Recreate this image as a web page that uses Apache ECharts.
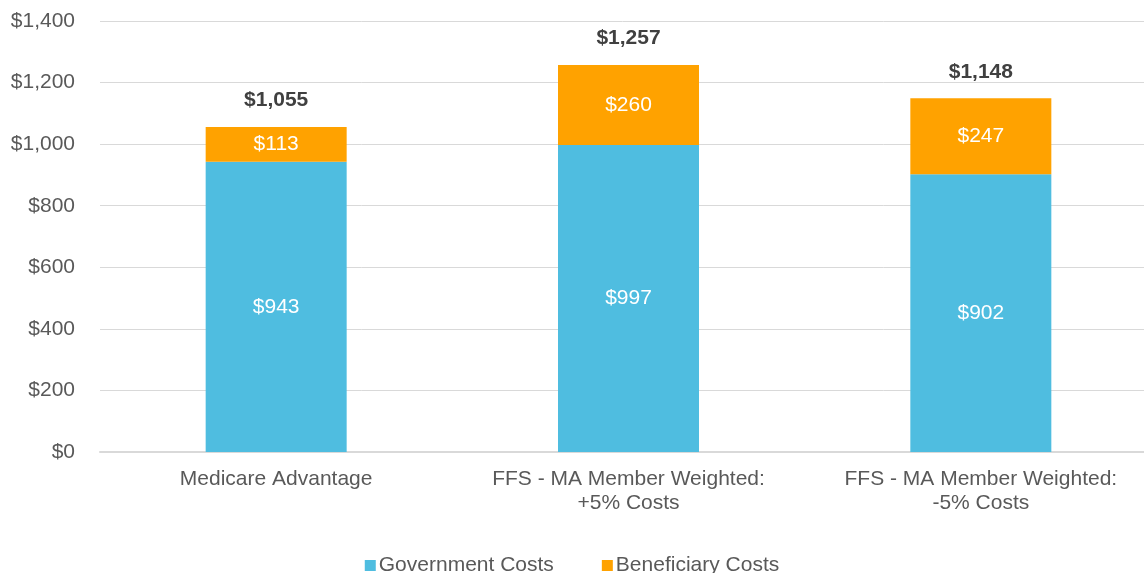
<!DOCTYPE html>
<html><head><meta charset="utf-8">
<script src="https://cdn.jsdelivr.net/npm/echarts@6/dist/echarts.min.js"></script>
<style>html,body{margin:0;padding:0;background:#fff}#c{width:1144px;height:573px}</style>
</head><body><div id="c"></div>
<script>
const categories = ['Medicare Advantage', 'FFS - MA Member Weighted:\n+5% Costs', 'FFS - MA Member Weighted:\n-5% Costs'];
const governmentCosts = [943, 997, 902];
const beneficiaryCosts = [113, 260, 247];
const totals = [1055, 1257, 1148];
const seriesNames = ['Government Costs', 'Beneficiary Costs'];
const yTicks = [0, 200, 400, 600, 800, 1000, 1200, 1400];

const fmt = v => '$' + v.toLocaleString('en-US');
const chart = echarts.init(document.getElementById('c'), null, {renderer: 'canvas'});
const font = 'Liberation Sans, Arial, sans-serif';
const fs = 21;
chart.setOption({
  animation: false,
  textStyle: {fontFamily: font},
  grid: {left: 100, top: 21, width: 1057, height: 431, containLabel: false, outerBoundsMode: 'none'},
  legend: {
    data: seriesNames, top: 550, left: 'center', icon: 'rect', itemWidth: 11, itemHeight: 11, itemGap: 48,
    textStyle: {fontSize: fs, color: '#595959', fontFamily: font, padding: [0, 0, 0, -2]}
  },
  xAxis: {
    type: 'category', data: categories,
    axisLine: {lineStyle: {color: '#d9d9d9', width: 2}},
    axisTick: {show: false},
    axisLabel: {fontSize: fs, color: '#595959', margin: 15, lineHeight: 24, interval: 0}
  },
  yAxis: {
    type: 'value', min: yTicks[0], max: yTicks[yTicks.length - 1], interval: 200,
    axisLine: {show: false}, axisTick: {show: false},
    splitLine: {lineStyle: {color: '#d9d9d9', width: 1}},
    axisLabel: {fontSize: fs, color: '#595959', margin: 25, formatter: v => fmt(v)}
  },
  series: [
    {name: seriesNames[0], type: 'bar', stack: 'total', data: governmentCosts, barWidth: 141,
     itemStyle: {color: '#4fbde0'},
     label: {show: true, position: 'inside', color: '#fff', fontSize: fs, formatter: p => fmt(p.value)}},
    {name: seriesNames[1], type: 'bar', stack: 'total', data: beneficiaryCosts, barWidth: 141,
     itemStyle: {color: '#ffa200'},
     label: {show: true, position: 'inside', color: '#fff', fontSize: fs, formatter: p => fmt(p.value)}},
    {name: 'Total', type: 'bar', stack: 'total', data: totals.map(() => 0), barWidth: 141,
     itemStyle: {color: 'transparent'},
     label: {show: true, position: 'top', distance: 16, color: '#404040', fontSize: fs, fontWeight: 'bold',
       formatter: p => fmt(totals[p.dataIndex])}}
  ]
});
</script></body></html>
